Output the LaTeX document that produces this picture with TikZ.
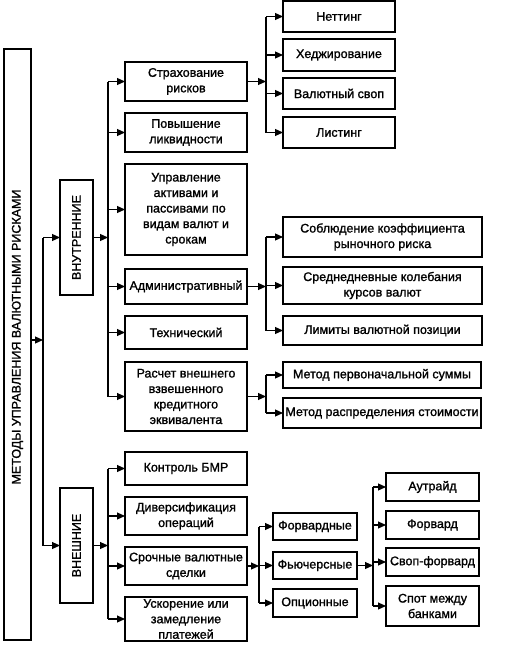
\documentclass[tikz,border=0pt]{standalone}
\usepackage{fontspec}
\setmainfont{Liberation Sans}[FakeBold=1.3]
\usetikzlibrary{arrows.meta,calc}
\newcommand\mybox[6]{\node[box,minimum width={(#4)-(#2)},minimum height={(#5)-(#3)}] (#1) at ({((#2)+(#4))/2},{((#3)+(#5))/2}) {#6};}
\begin{document}
\begin{tikzpicture}[x=1pt,y=-1pt,
  box/.style={draw,line width=1.4pt,inner sep=0pt,outer sep=0pt,align=center,font=\fontsize{12.5}{15.5}\selectfont},
  lbl/.style={inner sep=0pt,font=\fontsize{12.5}{15.5}\selectfont},
  con/.style={line width=1.1pt},
  arr/.style={line width=1.1pt,-{Triangle[length=8pt,width=7pt]}}]
\useasboundingbox (0,0) rectangle (507,645);
% main boxes
\mybox{main}{4}{49}{31}{640}{}
\node[lbl] (mainlbl) at (17.5,337) {\rotatebox{90}{МЕТОДЫ УПРАВЛЕНИЯ ВАЛЮТНЫМИ РИСКАМИ}};
\mybox{vn}{60}{180}{93}{295}{\rotatebox{90}{ВНУТРЕННИЕ}}
\mybox{ex}{60}{488}{93}{603}{\rotatebox{90}{ВНЕШНИЕ}}
% inner column
\mybox{s1}{125}{62}{247}{101}{Страхование\\рисков}
\mybox{s2}{125}{113}{247}{152}{Повышение\\ликвидности}
\mybox{s3}{125}{164}{247}{255}{Управление\\активами и\\пассивами по\\видам валют и\\срокам}
\mybox{s4}{125}{269}{247}{304}{Административный}
\mybox{s5}{125}{316}{247}{349}{Технический}
\mybox{s6}{125}{362}{247}{431}{Расчет внешнего\\взвешенного\\кредитного\\эквивалента}
\mybox{e1}{125}{452}{247}{485}{Контроль БМР}
\mybox{e2}{125}{497}{247}{535}{Диверсификация\\операций}
\mybox{e3}{125}{547}{247}{585}{Срочные валютные\\сделки}
\mybox{e4}{125}{597}{247}{641}{Ускорение или\\замедление\\платежей}
% right column
\mybox{h1}{283}{1}{395}{32}{Неттинг}
\mybox{h2}{283}{39}{395}{71}{Хеджирование}
\mybox{h3}{283}{78}{395}{109}{Валютный своп}
\mybox{h4}{283}{117}{395}{148}{Листинг}
\mybox{a1}{283}{217}{482}{257}{Соблюдение коэффициента\\рыночного риска}
\mybox{a2}{283}{267}{482}{304}{Среднедневные колебания\\курсов валют}
\mybox{a3}{283}{316}{482}{345}{Лимиты валютной позиции}
\mybox{m1}{283}{362}{481}{388}{Метод первоначальной суммы}
\mybox{m2}{283}{398}{481}{428}{Метод распределения стоимости}
\mybox{f1}{273}{513}{357}{540}{Форвардные}
\mybox{f2}{273}{552}{357}{579}{Фьючерсные}
\mybox{f3}{273}{589}{357}{617}{Опционные}
\mybox{g1}{386}{473}{479}{501}{Аутрайд}
\mybox{g2}{386}{511}{479}{539}{Форвард}
\mybox{g3}{386}{548}{479}{576}{Своп-форвард}
\mybox{g4}{386}{586}{479}{626}{Спот между\\банками}
% connectors level 1
\coordinate (j0) at (43,340);
\draw[arr] (main.east |- j0) -- (j0);
\draw[con] (vn.west -| j0) -- (ex.west -| j0);
\draw[arr] (vn.west -| j0) -- (vn.west);
\draw[arr] (ex.west -| j0) -- (ex.west);
% level 2
\coordinate (j1) at (108,0);
\draw[arr] (vn.east) -- (vn.east -| j1);
\draw[con] (s1.west -| j1) -- (s6.west -| j1);
\foreach \n in {s1,s2,s3,s4,s5,s6} \draw[arr] (\n.west -| j1) -- (\n.west);
\draw[arr] (ex.east) -- (ex.east -| j1);
\draw[con] (e1.west -| j1) -- (e4.west -| j1);
\foreach \n in {e1,e2,e3,e4} \draw[arr] (\n.west -| j1) -- (\n.west);
% level 3
\coordinate (j2) at (266,0);
\draw[arr] (s1.east) -- (s1.east -| j2);
\draw[con] (h1.west -| j2) -- (h4.west -| j2);
\foreach \n in {h1,h2,h3,h4} \draw[arr] (\n.west -| j2) -- (\n.west);
\draw[arr] (s4.east) -- (s4.east -| j2);
\draw[con] (a1.west -| j2) -- (a3.west -| j2);
\foreach \n in {a1,a2,a3} \draw[arr] (\n.west -| j2) -- (\n.west);
\draw[arr] (s6.east) -- (s6.east -| j2);
\draw[con] (m1.west -| j2) -- (m2.west -| j2);
\foreach \n in {m1,m2} \draw[arr] (\n.west -| j2) -- (\n.west);
\coordinate (j3) at (259,0);
\draw[arr] (e3.east) -- (e3.east -| j3);
\draw[con] (f1.west -| j3) -- (f3.west -| j3);
\foreach \n in {f1,f2,f3} \draw[arr] (\n.west -| j3) -- (\n.west);
\coordinate (j4) at (373,0);
\draw[arr] (f2.east) -- (f2.east -| j4);
\draw[con] (g1.west -| j4) -- (g4.west -| j4);
\foreach \n in {g1,g2,g3,g4} \draw[arr] (\n.west -| j4) -- (\n.west);
\end{tikzpicture}
\end{document}
